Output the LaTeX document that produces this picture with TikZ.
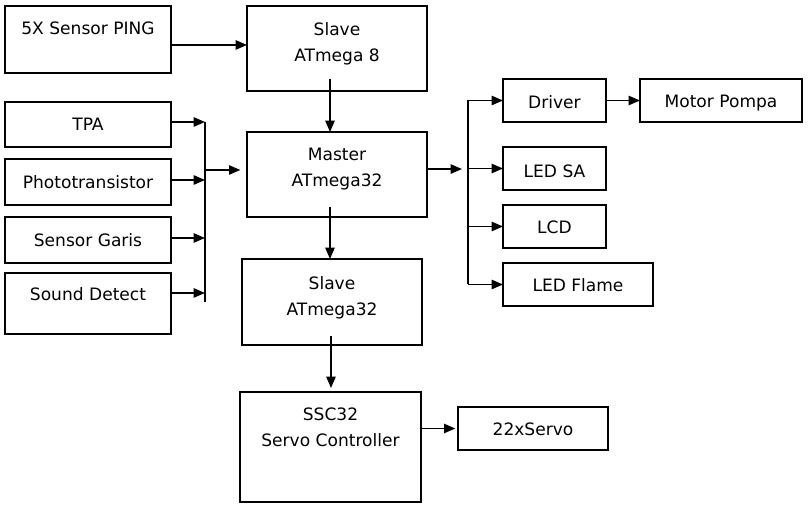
\documentclass[tikz,border=0pt]{standalone}
\usepackage{fontspec}
\setmainfont{DejaVu Sans}
\usepackage{tikz}
\usetikzlibrary{
    arrows.meta,
    calc,
    positioning
}

\begin{document}
\begin{tikzpicture}[
    x=0.75pt, y=-0.75pt,
    box/.style={draw, line width=1.1pt, inner sep=0pt, outer sep=0pt, minimum width=124.5pt, minimum height=32.25pt},
    txt/.style={inner sep=0pt, align=center, font=\fontsize{12.8}{19.5}\selectfont},
    arrow/.style={-{Triangle[length=8.5pt,width=7pt]}, line width=1.1pt},
    bus/.style={line width=1.1pt}
]
    \useasboundingbox (0,0) rectangle (811,509);

    % Sensor inputs
    \node[box, minimum height=50.25pt] (ping) at (88,39.5) {};
    \node[box, minimum height=33.75pt] (tpa) at (88,124.5) {};
    \node[box, minimum height=34.5pt] (photo) at (88,182) {};
    \node[box, minimum height=34.5pt] (garis) at (88,240) {};
    \node[box, minimum height=45.75pt] (sound) at (88,303.5) {};

    \node[txt, below=12pt of ping.north] (pingtxt) {5X Sensor PING};
    \node[txt, below=12pt of tpa.north] (tpatxt) {TPA};
    \node[txt, below=12pt of photo.north] (phototxt) {Phototransistor};
    \node[txt, below=12pt of garis.north] (garistxt) {Sensor Garis};
    \node[txt, below=11pt of sound.north] (soundtxt) {Sound Detect};

    % Controllers
    \node[box, minimum width=135pt, minimum height=63.75pt] (slaveA) at (337,48.5) {};
    \node[box, minimum width=135pt, minimum height=63.75pt] (master) at (337,174.5) {};
    \node[box, minimum width=135pt, minimum height=64.5pt] (slaveB) at (332,302) {};
    \node[box, minimum width=135.75pt, minimum height=82.5pt] (ssc) at (330.5,447) {};

    \node[txt, below=12.5pt of slaveA.north] (slaveAtxt) {Slave\\ATmega 8};
    \node[txt, below=12pt of master.north] (mastertxt) {Master\\ATmega32};
    \node[txt, below=13pt of slaveB.north] (slaveBtxt) {Slave\\ATmega32};
    \node[txt, below=12pt of ssc.north] (ssctxt) {SSC32\\Servo Controller};

    % Outputs
    \node[box, minimum width=77.25pt] (driver) at (554.5,100.5) {};
    \node[box, minimum width=121.5pt] (motor) at (721,100.5) {};
    \node[box, minimum width=77.25pt] (ledsa) at (554.5,168.5) {};
    \node[box, minimum width=77.25pt] (lcd) at (554.5,226.5) {};
    \node[box, minimum width=112.5pt] (flame) at (578,284.5) {};
    \node[box, minimum width=112.5pt] (servo) at (533,428.5) {};

    \node[txt, below=12pt of driver.north] (drivertxt) {Driver};
    \node[txt, below=12pt of motor.north] (motortxt) {Motor Pompa};
    \node[txt, below=13.5pt of ledsa.north] (ledsatxt) {LED SA};
    \node[txt, below=12pt of lcd.north] (lcdtxt) {LCD};
    \node[txt, below=11.5pt of flame.north] (flametxt) {LED Flame};
    \node[txt, below=12pt of servo.north] (servotxt) {22xServo};

    % Bus lines
    \coordinate (inbus) at (205,122);
    \coordinate (inbusend) at (205,302);
    \coordinate (outbus) at (468,102);

    % Inputs into the bus
    \draw[arrow] ([yshift=1.9pt]tpa.east) -- ([yshift=1.9pt]tpa.east -| inbus);
    \draw[arrow] ([yshift=1.5pt]photo.east) -- ([yshift=1.5pt]photo.east -| inbus);
    \draw[arrow] ([yshift=1.5pt]garis.east) -- ([yshift=1.5pt]garis.east -| inbus);
    \draw[arrow] ([yshift=7.9pt]sound.east) -- ([yshift=7.9pt]sound.east -| inbus);
    \draw[bus] (inbus) -- (inbusend);
    \draw[arrow, shorten >=5pt] ([yshift=3.4pt]master.west -| inbus) -- ([yshift=3.4pt]master.west);

    % Controller chain
    \draw[arrow] ([yshift=-4.1pt]ping.east) -- ([yshift=-4.1pt]ping.east -| slaveA.west);
    \draw[arrow] ([xshift=-5.25pt,yshift=9pt]slaveA.south) -- ([xshift=-5.25pt]master.north);
    \draw[arrow] ([xshift=-5.25pt,yshift=7.5pt]master.south) -- ([xshift=-5.25pt]master.south |- slaveB.north);
    \draw[arrow, shorten >=3pt] ([xshift=-0.75pt,yshift=6.75pt]slaveB.south) -- ([xshift=-0.75pt]slaveB.south |- ssc.north);
    \draw[arrow, shorten >=2pt] (ssc.east |- servo.west) -- (servo.west);

    % Outputs from the bus
    \draw[arrow, shorten >=4.5pt] ([yshift=4.1pt]master.east) -- ([yshift=4.1pt]master.east -| outbus);
    \draw[bus] (outbus |- driver.west) -- (outbus |- flame.west);
    \draw[arrow] (outbus |- driver.west) -- (driver.west);
    \draw[arrow] (outbus |- ledsa.west) -- (ledsa.west);
    \draw[arrow] (outbus |- lcd.west) -- (lcd.west);
    \draw[arrow] (outbus |- flame.west) -- (flame.west);
    \draw[arrow] (driver.east) -- (motor.west);
\end{tikzpicture}
\end{document}
